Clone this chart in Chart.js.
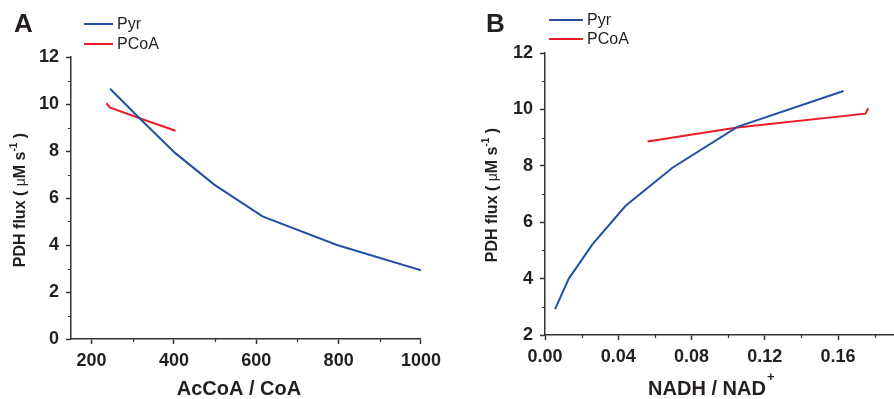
<!DOCTYPE html>
<html>
<head>
<meta charset="utf-8">
<script src="https://cdn.jsdelivr.net/npm/chart.js@4"></script>
<style>
  body { margin: 0; background: #fff; }
  #wrap { width: 894px; height: 399px; display: flex; }
  canvas { display: block; }
</style>
</head>
<body>
<div id="wrap">
  <canvas id="chartA" width="447" height="399"></canvas>
  <canvas id="chartB" width="447" height="399"></canvas>
</div>
<script>
// values
const seriesNames = ["Pyr", "PCoA"];
const pyrFlux   = [10.65, 9.38, 7.93, 6.58, 5.22, 4.0, 2.92];
const pyrAcCoA  = [245, 317, 402, 497, 615, 796, 1000];
const pyrNadh   = [0.163, 0.105, 0.0696, 0.044, 0.026, 0.013, 0.0055];
const pcoaFlux  = [10.04, 9.85, 9.36, 8.86];
const pcoaAcCoA = [236, 244, 322, 404];
const pcoaNadh  = [0.1765, 0.175, 0.105, 0.056];

const xTicksA = [200, 400, 600, 800, 1000];
const xMinorA = [300, 500, 700, 900];
const yTicksA = [0, 2, 4, 6, 8, 10, 12];
const yMinorA = [1, 3, 5, 7, 9, 11];
const xTicksB = [0, 0.04, 0.08, 0.12, 0.16];
const xMinorB = [0.02, 0.06, 0.10, 0.14, 0.18];
const yTicksB = [2, 4, 6, 8, 10, 12];
const yMinorB = [3, 5, 7, 9, 11];

const FONT = "'Liberation Sans', Arial, sans-serif";
const TXT = '#231f20';
const AX = '#333333';
const BLUE = '#2350a5';
const RED = '#ec1c26';

function makeDecor(p) {
  return {
    id: 'decor' + p.letter,
    afterDraw(chart) {
      const ctx = chart.ctx;
      const xs = chart.scales.x, ys = chart.scales.y;
      ctx.save();
      // minor ticks
      ctx.strokeStyle = AX;
      ctx.lineWidth = 1.2;
      ctx.beginPath();
      p.xMinor.forEach(v => {
        const px = Math.round(xs.getPixelForValue(v)) + 0.5;
        ctx.moveTo(px, xs.top); ctx.lineTo(px, xs.top + 3);
      });
      p.yMinor.forEach(v => {
        const py = Math.round(ys.getPixelForValue(v)) + 0.5;
        ctx.moveTo(ys.right, py); ctx.lineTo(ys.right - 3, py);
      });
      ctx.stroke();

      ctx.fillStyle = TXT;
      // panel letter
      ctx.font = 'bold 26px ' + FONT;
      ctx.textBaseline = 'alphabetic';
      ctx.textAlign = 'left';
      ctx.fillText(p.letter, p.letterX, 32);

      // legend
      const colors = [BLUE, RED];
      ctx.font = '16px ' + FONT;
      ctx.textBaseline = 'middle';
      seriesNames.forEach((name, i) => {
        const y = p.legY[i];
        ctx.strokeStyle = colors[i];
        ctx.lineWidth = 2;
        ctx.beginPath();
        ctx.moveTo(p.legX[0], y); ctx.lineTo(p.legX[1], y);
        ctx.stroke();
        ctx.fillText(name, p.legX[1] + 4, y + 1);
      });

      // y axis title
      const segs = [
        { t: 'PDH flux ( ', f: 'bold 16px ' + FONT, dy: 0 },
        { t: '\u03bc', f: '14px ' + FONT, dy: 0 },
        { t: 'M s', f: 'bold 16px ' + FONT, dy: 0 },
        { t: '-1', f: 'bold 10px ' + FONT, dy: -7 },
        { t: ' )', f: 'bold 16px ' + FONT, dy: 0 }
      ];
      let total = 0;
      segs.forEach(s => { ctx.font = s.f; s.w = ctx.measureText(s.t).width; total += s.w; });
      ctx.translate(p.yTitle[0], p.yTitle[1]);
      ctx.rotate(-Math.PI / 2);
      let cx = -total / 2;
      segs.forEach(s => {
        ctx.font = s.f;
        ctx.fillText(s.t, cx, s.dy);
        cx += s.w;
      });
      ctx.setTransform(1, 0, 0, 1, 0, 0);

      // x axis title
      ctx.font = 'bold 20px ' + FONT;
      ctx.textBaseline = 'alphabetic';
      ctx.textAlign = 'center';
      ctx.fillText(p.xTitle, p.xTitlePos[0], p.xTitlePos[1]);
      if (p.xTitleSup) {
        const w = ctx.measureText(p.xTitle).width;
        ctx.font = 'bold 13px ' + FONT;
        ctx.textAlign = 'left';
        ctx.fillText(p.xTitleSup, p.xTitlePos[0] + w / 2 + 1, p.xTitlePos[1] - 14);
      }
      ctx.restore();
    }
  };
}

function buildChart(id, p) {
  const tickFont = { family: FONT, size: 18, weight: 'bold' };
  return new Chart(document.getElementById(id), {
    type: 'line',
    data: {
      datasets: [
        { label: seriesNames[0], data: p.pyrX.map((x, i) => ({ x: x, y: pyrFlux[i] })),
          borderColor: BLUE, backgroundColor: BLUE },
        { label: seriesNames[1], data: p.pcoaX.map((x, i) => ({ x: x, y: pcoaFlux[i] })),
          borderColor: RED, backgroundColor: RED }
      ]
    },
    options: {
      responsive: false,
      animation: false,
      layout: { padding: { top: p.top, right: p.right, left: 0, bottom: 0 } },
      plugins: { legend: { display: false }, tooltip: { enabled: false } },
      elements: { point: { radius: 0 }, line: { borderWidth: 2, tension: 0 } },
      scales: {
        x: {
          type: 'linear', min: p.xMin, max: p.xMax,
          afterBuildTicks: s => { s.ticks = p.xTicks.map(v => ({ value: v })); },
          afterFit: s => { s.height = 399 - p.bottom; },
          ticks: { font: tickFont, color: TXT, padding: 6, maxRotation: 0, autoSkip: false,
                   callback: v => p.xFmt(v) },
          grid: { drawOnChartArea: false, tickLength: 5, tickWidth: 1.5, tickColor: AX },
          border: { color: AX, width: 1.5 }
        },
        y: {
          type: 'linear', min: p.yMin, max: p.yMax,
          afterBuildTicks: s => { s.ticks = p.yTicks.map(v => ({ value: v })); },
          afterFit: s => { s.width = p.left; },
          ticks: { font: tickFont, color: TXT, padding: 7, autoSkip: false,
                   callback: v => String(v) },
          grid: { drawOnChartArea: false, tickLength: 5, tickWidth: 1.5, tickColor: AX },
          border: { color: AX, width: 1.5 }
        }
      }
    },
    plugins: [makeDecor(p)]
  });
}

buildChart('chartA', {
  letter: 'A', letterX: 14,
  pyrX: pyrAcCoA, pcoaX: pcoaAcCoA,
  xMin: 150, xMax: 1000, yMin: 0, yMax: 12,
  xTicks: xTicksA, xMinor: xMinorA, yTicks: yTicksA, yMinor: yMinorA,
  xFmt: v => String(v),
  top: 57, bottom: 339, left: 71, right: 26,
  legX: [84, 113], legY: [24, 44],
  yTitle: [21, 200],
  xTitle: 'AcCoA / CoA', xTitlePos: [239, 395]
});

buildChart('chartB', {
  letter: 'B', letterX: 39,
  pyrX: pyrNadh, pcoaX: pcoaNadh,
  xMin: 0, xMax: 0.19, yMin: 2, yMax: 12,
  xTicks: xTicksB, xMinor: xMinorB, yTicks: yTicksB, yMinor: yMinorB,
  xFmt: v => v.toFixed(2),
  top: 53, bottom: 335, left: 98, right: 1,
  legX: [102, 136], legY: [20, 39],
  yTitle: [46, 195],
  xTitle: 'NADH / NAD', xTitleSup: '+', xTitlePos: [260, 395]
});
</script>
</body>
</html>
